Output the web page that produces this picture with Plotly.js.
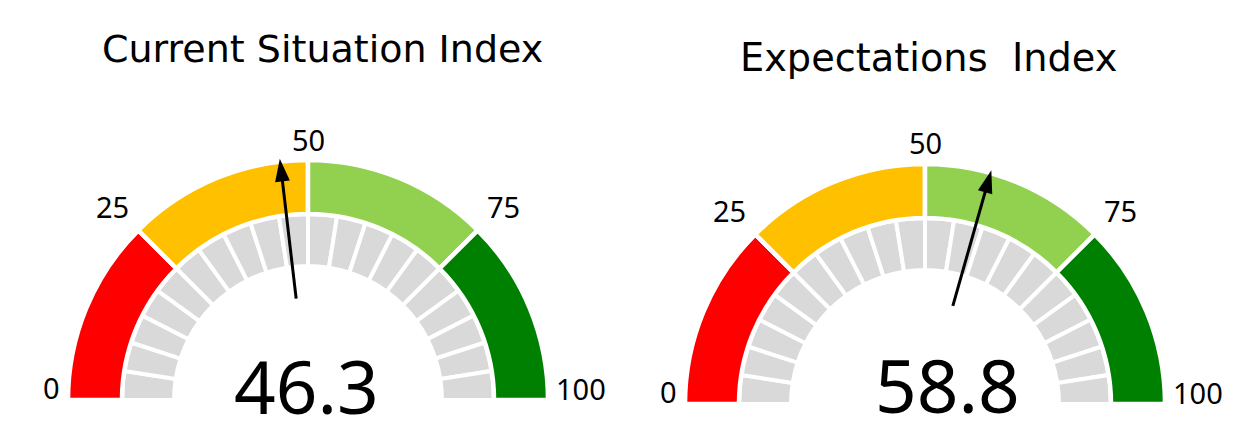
<!DOCTYPE html>
<html><head><meta charset="utf-8">
<script src="https://cdn.plot.ly/plotly-3.0.1.min.js"></script>
<style>html,body{margin:0;padding:0;background:#fff;} #chart{width:1258px;height:445px;}</style>
</head><body><div id="chart"></div>
<script>
// ---- data ----
const gaugeTitles = ['Current Situation Index', 'Expectations\u00a0 Index'];
const gaugeValues = [46.3, 58.8];
const bandStarts = [0, 25, 50, 75];
const bandEnds = [25, 50, 75, 100];
const bandColors = ['#ff0000', '#ffc000', '#92d050', '#008000'];
const tickValues = [0, 25, 50, 75, 100];
const tickLabels = ['0', '25', '50', '75', '100'];
const segmentCount = 20;
const scaleMin = 0, scaleMax = 100;

// ---- geometry / style ----
const toTheta = v => 180 - (v - scaleMin) / (scaleMax - scaleMin) * 180;
const G = { outerBase: 186, outerLen: 54, innerBase: 134, innerLen: 52,
            needleFrom: 102, needleTo: 234, tip: 243, rMax: 300 };
const FONT = '"Noto Sans", "Open Sans", sans-serif';
const TFONT = '"DejaVu Sans", Verdana, sans-serif';
const W = 1258, H = 445;
const subplots = [
  { id: 'polar',  cx: 308, cy: 400,
    title: { x: 322.5, y: 49, size: 38 }, value: { x: 306, y: 385 } },
  { id: 'polar2', cx: 925, cy: 404,
    title: { x: 928.5, y: 57, size: 38.3 }, value: { x: 947, y: 384 } }
];

const traces = [];
const annotations = [];
const layout = {
  width: W, height: H,
  margin: { l: 0, r: 0, t: 0, b: 0 },
  paper_bgcolor: '#ffffff', showlegend: false,
  font: { family: FONT, color: '#000' },
  annotations: annotations
};

subplots.forEach((sp, gi) => {
  const value = gaugeValues[gi];
  // gray segment ring
  const segW = (scaleMax - scaleMin) / segmentCount;
  const segCenters = [];
  for (let i = 0; i < segmentCount; i++) segCenters.push(scaleMin + segW * (i + 0.5));
  traces.push({
    type: 'barpolar', subplot: sp.id,
    theta: segCenters.map(toTheta), width: segCenters.map(() => segW * 1.8),
    base: segCenters.map(() => G.innerBase), r: segCenters.map(() => G.innerLen),
    marker: { color: '#d9d9d9', line: { color: '#ffffff', width: 4 } },
    hoverinfo: 'skip'
  });
  // colored band ring
  traces.push({
    type: 'barpolar', subplot: sp.id,
    theta: bandStarts.map((s, i) => toTheta((s + bandEnds[i]) / 2)),
    width: bandStarts.map((s, i) => (bandEnds[i] - s) * 1.8),
    base: bandStarts.map(() => G.outerBase), r: bandStarts.map(() => G.outerLen),
    marker: { color: bandColors, line: { color: '#ffffff', width: 4.5 } },
    hoverinfo: 'skip'
  });
  // needle
  const t = toTheta(value);
  traces.push({
    type: 'scatterpolar', subplot: sp.id, mode: 'lines',
    r: [G.needleFrom, G.needleTo], theta: [t, t],
    line: { color: '#000', width: 3 }, hoverinfo: 'skip', cliponaxis: false
  });
  traces.push({
    type: 'scatterpolar', subplot: sp.id, mode: 'markers',
    r: [G.tip], theta: [t],
    marker: { symbol: 'arrow', size: 24, angle: 90 - t, color: '#000', line: { width: 0 } },
    hoverinfo: 'skip', cliponaxis: false
  });

  layout[sp.id] = {
    domain: { x: [(sp.cx - G.rMax) / W, (sp.cx + G.rMax) / W],
              y: [(H - sp.cy) / H, (H - sp.cy + G.rMax) / H] },
    sector: [0, 180], hole: 0, bgcolor: 'rgba(0,0,0,0)',
    radialaxis: { visible: false, range: [0, G.rMax] },
    angularaxis: { visible: false }
  };

  // tick labels placed around the gauge (positions follow the same angle mapping)
  tickValues.forEach((v, i) => {
    const a = toTheta(v) * Math.PI / 180;
    const isEnd = (v === scaleMin || v === scaleMax);
    const diag = Math.pow(Math.sin(2 * a), 2);
    const r = isEnd ? 246 : 261 + 16 * diag;
    const px = sp.cx + r * Math.cos(a);
    const py = sp.cy - r * Math.sin(a) + (isEnd ? -12 : 2 * diag);
    annotations.push({
      xref: 'paper', yref: 'paper', x: px / W, y: 1 - py / H,
      xanchor: v === scaleMin ? 'right' : (v === scaleMax ? 'left' : 'center'),
      yanchor: 'middle', showarrow: false,
      text: tickLabels[i], font: { family: FONT, size: 29, color: '#000' }
    });
  });

  annotations.push({
    xref: 'paper', yref: 'paper', x: sp.title.x / W, y: 1 - sp.title.y / H,
    xanchor: 'center', yanchor: 'middle', showarrow: false,
    text: gaugeTitles[gi], font: { family: TFONT, size: sp.title.size, color: '#000' }
  });
  annotations.push({
    xref: 'paper', yref: 'paper', x: sp.value.x / W, y: 1 - sp.value.y / H,
    xanchor: 'center', yanchor: 'middle', showarrow: false,
    text: value.toFixed(1), font: { family: FONT, size: 73, color: '#000' }
  });
});

Plotly.newPlot('chart', traces, layout, { staticPlot: true, displayModeBar: false });
</script>
</body></html>
